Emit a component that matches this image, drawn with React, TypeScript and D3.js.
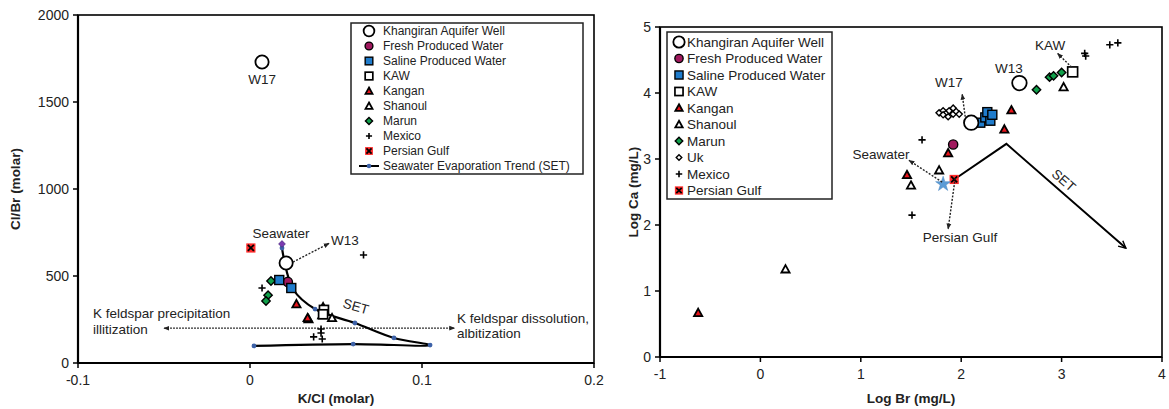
import React from "react";
import * as d3 from "d3";

const FONT = "'Liberation Sans', Arial, Helvetica, sans-serif";

// ---------- Left panel: K/Cl vs Cl/Br (molar) ----------
const khangiranL = [
  { x: 0.007, y: 1730 },
  { x: 0.021, y: 575 },
];
const freshL = [{ x: 0.022, y: 466 }];
const salineL = [
  { x: 0.017, y: 477 },
  { x: 0.024, y: 431 },
];
const kawL = [
  { x: 0.043, y: 305 },
  { x: 0.0425, y: 280 },
];
const kanganL = [
  { x: 0.027, y: 339 },
  { x: 0.0335, y: 259 },
  { x: 0.0425, y: 322 },
];
const shanoulL = [
  { x: 0.034, y: 253 },
  { x: 0.042, y: 276 },
  { x: 0.0477, y: 259 },
];
const marunL = [
  { x: 0.0122, y: 471 },
  { x: 0.0105, y: 390 },
  { x: 0.0093, y: 356 },
];
const mexicoL = [
  { x: 0.007, y: 431 },
  { x: 0.066, y: 621 },
  { x: 0.0413, y: 195 },
  { x: 0.0413, y: 172 },
  { x: 0.037, y: 150 },
  { x: 0.042, y: 138 },
];
const persianL = [{ x: 0.0005, y: 661 }];
const seawaterL = [{ x: 0.0186, y: 684 }];
const setL = [
  { x: 0.0186, y: 661 },
  { x: 0.025, y: 425 },
  { x: 0.0378, y: 310 },
  { x: 0.061, y: 230 },
  { x: 0.0837, y: 144 },
  { x: 0.1047, y: 103 },
  { x: 0.06, y: 109 },
  { x: 0.0023, y: 98 },
];
const xTicksL = [-0.1, 0, 0.1, 0.2];
const yTicksL = [0, 500, 1000, 1500, 2000];

// ---------- Right panel: Log Br vs Log Ca (mg/L) ----------
const khangiranR = [
  { x: 2.58, y: 4.15 },
  { x: 2.1, y: 3.55 },
];
const freshR = [{ x: 1.92, y: 3.22 }];
const salineR = [
  { x: 2.19, y: 3.55 },
  { x: 2.24, y: 3.63 },
  { x: 2.29, y: 3.58 },
  { x: 2.26, y: 3.71 },
  { x: 2.31, y: 3.67 },
];
const kawR = [{ x: 3.11, y: 4.32 }];
const kanganR = [
  { x: 2.5, y: 3.74 },
  { x: 2.43, y: 3.45 },
  { x: 1.87, y: 3.09 },
  { x: 1.46, y: 2.76 },
  { x: -0.62, y: 0.67 },
];
const shanoulR = [
  { x: 3.02, y: 4.09 },
  { x: 1.78, y: 2.83 },
  { x: 1.5, y: 2.6 },
  { x: 0.25, y: 1.33 },
];
const marunR = [
  { x: 2.75, y: 4.05 },
  { x: 2.88, y: 4.24 },
  { x: 2.92, y: 4.26 },
  { x: 3.0, y: 4.31 },
];
const ukR = [
  { x: 1.78, y: 3.7 },
  { x: 1.82, y: 3.73 },
  { x: 1.85, y: 3.69 },
  { x: 1.88, y: 3.73 },
  { x: 1.92, y: 3.77 },
  { x: 1.92, y: 3.68 },
  { x: 1.95, y: 3.72 },
  { x: 1.87, y: 3.64 },
  { x: 1.82, y: 3.67 },
  { x: 1.98, y: 3.68 },
];
const mexicoR = [
  { x: 3.48, y: 4.73 },
  { x: 3.56, y: 4.76 },
  { x: 3.23, y: 4.6 },
  { x: 3.24, y: 4.56 },
  { x: 1.61, y: 3.29 },
  { x: 1.51, y: 2.15 },
];
const persianR = [{ x: 1.93, y: 2.69 }];
const seawaterR = [{ x: 1.82, y: 2.62 }];
const setR = [
  { x: 1.93, y: 2.69 },
  { x: 2.45, y: 3.23 },
  { x: 3.64, y: 1.65 },
];
const xTicksR = [-1, 0, 1, 2, 3, 4];
const yTicksR = [0, 1, 2, 3, 4, 5];

const legendL = [
  "Khangiran Aquifer Well",
  "Fresh Produced Water",
  "Saline Produced Water",
  "KAW",
  "Kangan",
  "Shanoul",
  "Marun",
  "Mexico",
  "Persian Gulf",
  "Seawater Evaporation Trend (SET)",
];
const legendKindsL = ["khangiran", "fresh", "saline", "kaw", "kangan", "shanoul", "marun", "mexico", "persian", "set"];
const legendR = [
  "Khangiran Aquifer Well",
  "Fresh Produced Water",
  "Saline Produced Water",
  "KAW",
  "Kangan",
  "Shanoul",
  "Marun",
  "Uk",
  "Mexico",
  "Persian Gulf",
];
const legendKindsR = ["khangiran", "fresh", "saline", "kaw", "kangan", "shanoul", "marun", "uk", "mexico", "persian"];

const COLORS = {
  fresh: "#a0195e",
  saline: "#1f7ccc",
  kangan: "#e8141b",
  marun: "#10a04a",
  persian: "#ff2a2a",
  seawaterDiamond: "#7a3ab0",
  star: "#5b9bd5",
  setDot: "#3d62a8",
};

function Marker({ kind, x, y, k = 1 }: { kind: string; x: number; y: number; k?: number }) {
  switch (kind) {
    case "khangiran":
      return <circle cx={x} cy={y} r={6.3 * k} fill="#fff" stroke="#000" strokeWidth={1.8} />;
    case "fresh":
      return <circle cx={x} cy={y} r={4.6 * k} fill={COLORS.fresh} stroke="#000" strokeWidth={1.4} />;
    case "saline": {
      const h = 4.5 * k;
      return <rect x={x - h} y={y - h} width={2 * h} height={2 * h} fill={COLORS.saline} stroke="#000" strokeWidth={1.4} />;
    }
    case "kaw": {
      const h = 4.5 * k;
      return <rect x={x - h} y={y - h} width={2 * h} height={2 * h} fill="#fff" stroke="#000" strokeWidth={1.7} />;
    }
    case "kangan":
    case "shanoul": {
      const h = 4.1 * k;
      const p = `M${x},${y - h}L${x + h},${y + h * 0.8}L${x - h},${y + h * 0.8}Z`;
      return (
        <path d={p} fill={kind === "kangan" ? COLORS.kangan : "#fff"} stroke="#000" strokeWidth={1.8} strokeLinejoin="miter" />
      );
    }
    case "marun":
    case "uk":
    case "seadiamond": {
      const h = (kind === "uk" ? 3.1 : 4.2) * k;
      const fill = kind === "marun" ? COLORS.marun : kind === "uk" ? "#fff" : COLORS.seawaterDiamond;
      return (
        <path
          d={`M${x},${y - h}L${x + h},${y}L${x},${y + h}L${x - h},${y}Z`}
          fill={fill}
          stroke={kind === "seadiamond" ? "#4a2a80" : "#000"}
          strokeWidth={kind === "seadiamond" ? 0.8 : 1.4}
        />
      );
    }
    case "mexico": {
      const h = 3.6 * k;
      return (
        <path d={`M${x - h},${y}H${x + h}M${x},${y - h}V${y + h}`} stroke="#000" strokeWidth={1.6} fill="none" />
      );
    }
    case "persian": {
      const h = 4.6 * k;
      const c = 3 * k;
      return (
        <g>
          <rect x={x - h} y={y - h} width={2 * h} height={2 * h} fill={COLORS.persian} />
          <path d={`M${x - c},${y - c}L${x + c},${y + c}M${x + c},${y - c}L${x - c},${y + c}`} stroke="#000" strokeWidth={1.8} />
        </g>
      );
    }
    case "star": {
      const p = d3.symbol(d3.symbolStar, 70 * k)() as string;
      return <path d={p} transform={`translate(${x},${y})`} fill={COLORS.star} stroke="#4a86c0" strokeWidth={0.5} />;
    }
    case "set":
      return (
        <g>
          <line x1={x - 10} x2={x + 10} y1={y} y2={y} stroke="#000" strokeWidth={2} />
          <circle cx={x} cy={y} r={2.3} fill={COLORS.setDot} />
        </g>
      );
    default:
      return null;
  }
}

type Pt = { x: number; y: number };

function Series({ data, kind, sx, sy, k }: { data: Pt[]; kind: string; sx: any; sy: any; k?: number }) {
  return (
    <g>
      {data.map((d, i) => (
        <Marker key={i} kind={kind} x={sx(d.x)} y={sy(d.y)} k={k} />
      ))}
    </g>
  );
}

function Frame({ sx, sy, xTicks, yTicks, fmtX, fmtY }: any) {
  const [x0, x1] = sx.range();
  const [y0, y1] = sy.range();
  return (
    <g fontFamily={FONT}>
      <rect x={x0} y={y1} width={x1 - x0} height={y0 - y1} fill="none" stroke="#000" strokeWidth={1.6} />
      <line x1={x0} x2={x1} y1={y0} y2={y0} stroke="#000" strokeWidth={2.2} />
      <line x1={x0} x2={x0} y1={y0} y2={y1} stroke="#000" strokeWidth={2.2} />
      {xTicks.map((t: number) => (
        <g key={"x" + t}>
          <line x1={sx(t)} x2={sx(t)} y1={y0} y2={y0 + 5} stroke="#000" strokeWidth={1.5} />
          <text x={sx(t)} y={y0 + 22} textAnchor="middle" fontSize={14} fill="#222">
            {fmtX(t)}
          </text>
        </g>
      ))}
      {yTicks.map((t: number) => (
        <g key={"y" + t}>
          <line x1={x0 - 5} x2={x0} y1={sy(t)} y2={sy(t)} stroke="#000" strokeWidth={1.5} />
          <text x={x0 - 9} y={sy(t) + 5} textAnchor="end" fontSize={14} fill="#222">
            {fmtY(t)}
          </text>
        </g>
      ))}
    </g>
  );
}

function Legend({ x, y, w, h, labels, kinds, rowY0, dy, mx, tx, fs, k }: any) {
  return (
    <g fontFamily={FONT}>
      <rect x={x} y={y} width={w} height={h} fill="#fff" stroke="#222" strokeWidth={1.5} />
      {labels.map((l: string, i: number) => (
        <g key={l}>
          <Marker kind={kinds[i]} x={mx} y={rowY0 + i * dy} k={k} />
          <text x={tx} y={rowY0 + i * dy + fs * 0.36} fontSize={fs} fill="#222">
            {l}
          </text>
        </g>
      ))}
    </g>
  );
}

function Arrow({ x1, y1, x2, y2, id }: { x1: number; y1: number; x2: number; y2: number; id: string }) {
  return <line x1={x1} y1={y1} x2={x2} y2={y2} stroke="#222" strokeWidth={1.4} strokeDasharray="2,1.5" markerEnd={`url(#${id})`} />;
}

export default function App() {
  const xL = d3.scaleLinear().domain([-0.1, 0.2]).range([78, 594]);
  const yL = d3.scaleLinear().domain([0, 2000]).range([363, 15]);
  const xR = d3.scaleLinear().domain([-1, 4]).range([660, 1162]);
  const yR = d3.scaleLinear().domain([0, 5]).range([357, 27]);

  const setLinePath = d3
    .line<Pt>()
    .x((d) => xL(d.x))
    .y((d) => yL(d.y))
    .curve(d3.curveCatmullRom.alpha(0.5))(setL) as string;

  const setRPath = d3
    .line<Pt>()
    .x((d) => xR(d.x))
    .y((d) => yR(d.y))(setR) as string;

  // SET label angle on the right follows the descending SET branch
  const angR =
    (Math.atan2(yR(setR[2].y) - yR(setR[1].y), xR(setR[2].x) - xR(setR[1].x)) * 180) / Math.PI;

  return (
    <svg width={1169} height={409} style={{ position: "absolute", left: 0, top: 0, background: "#fff" }}>
      <defs>
        <marker id="ah" viewBox="0 0 10 10" refX="9" refY="5" markerWidth="6" markerHeight="6" orient="auto-start-reverse" markerUnits="userSpaceOnUse">
          <path d="M0,1L10,5L0,9Z" fill="#222" />
        </marker>
        <marker id="ahOpen" viewBox="0 0 10 10" refX="9" refY="5" markerWidth="9" markerHeight="9" orient="auto" markerUnits="userSpaceOnUse">
          <path d="M1,1L9,5L1,9" fill="none" stroke="#000" strokeWidth={1.6} />
        </marker>
      </defs>
      <rect width={1169} height={409} fill="#fff" />

      {/* ---------------- Left panel ---------------- */}
      <Frame sx={xL} sy={yL} xTicks={xTicksL} yTicks={yTicksL} fmtX={(t: number) => (t === 0 ? "0" : String(t))} fmtY={(t: number) => String(t)} />
      <text x={336} y={403} textAnchor="middle" fontFamily={FONT} fontWeight="bold" fontSize={13.5} fill="#222">
        K/Cl (molar)
      </text>
      <text transform={`translate(20,${yL(1000)}) rotate(-90)`} textAnchor="middle" fontFamily={FONT} fontWeight="bold" fontSize={13.5} fill="#222">
        Cl/Br (molar)
      </text>

      {/* K feldspar reaction arrow */}
      <line
        x1={xL(-0.05)}
        x2={xL(0.119)}
        y1={yL(200)}
        y2={yL(200)}
        stroke="#333"
        strokeWidth={1.2}
        strokeDasharray="2,1"
        markerStart="url(#ah)"
        markerEnd="url(#ah)"
      />
      <g fontFamily={FONT} fontSize={13.5} fill="#222">
        <text x={93} y={318}>K feldspar precipitation</text>
        <text x={93} y={334}>illitization</text>
        <text x={457} y={323}>K feldspar dissolution,</text>
        <text x={457} y={338}>albitization</text>
      </g>

      {/* Seawater evaporation trend */}
      <path d={setLinePath} fill="none" stroke="#000" strokeWidth={2.2} />
      {setL.map((d, i) => (
        <circle key={i} cx={xL(d.x)} cy={yL(d.y)} r={2.4} fill={COLORS.setDot} />
      ))}

      <Series data={marunL} kind="marun" sx={xL} sy={yL} />
      <Series data={mexicoL} kind="mexico" sx={xL} sy={yL} />
      <Series data={shanoulL} kind="shanoul" sx={xL} sy={yL} />
      <Series data={kanganL} kind="kangan" sx={xL} sy={yL} />
      <Series data={kawL} kind="kaw" sx={xL} sy={yL} />
      <Series data={freshL} kind="fresh" sx={xL} sy={yL} />
      <Series data={salineL} kind="saline" sx={xL} sy={yL} />
      <Series data={persianL} kind="persian" sx={xL} sy={yL} />
      <Series data={seawaterL} kind="seadiamond" sx={xL} sy={yL} k={0.8} />
      <Series data={khangiranL} kind="khangiran" sx={xL} sy={yL} k={1.05} />

      <Arrow id="ah" x1={xL(0.025)} y1={yL(580)} x2={xL(0.046)} y2={yL(688)} />
      <g fontFamily={FONT} fontSize={13.5} fill="#222">
        <text x={xL(0.007)} y={84} textAnchor="middle">W17</text>
        <text x={281} y={238} textAnchor="middle">Seawater</text>
        <text x={331} y={245}>W13</text>
        <text x={356} y={311} textAnchor="middle" transform="rotate(16,356,306)">SET</text>
      </g>

      <Legend
        x={351}
        y={23}
        w={232}
        h={151}
        labels={legendL}
        kinds={legendKindsL}
        rowY0={31}
        dy={15}
        mx={369}
        tx={383}
        fs={12}
        k={0.85}
      />

      {/* ---------------- Right panel ---------------- */}
      <Frame sx={xR} sy={yR} xTicks={xTicksR} yTicks={yTicksR} fmtX={(t: number) => String(t)} fmtY={(t: number) => String(t)} />
      <text x={xR(1.5)} y={403} textAnchor="middle" fontFamily={FONT} fontWeight="bold" fontSize={13.5} fill="#222">
        Log Br (mg/L)
      </text>
      <text transform={`translate(638,${yR(2.5)}) rotate(-90)`} textAnchor="middle" fontFamily={FONT} fontWeight="bold" fontSize={13.5} fill="#222">
        Log Ca (mg/L)
      </text>

      <path d={setRPath} fill="none" stroke="#000" strokeWidth={2} markerEnd="url(#ahOpen)" />

      <Series data={ukR} kind="uk" sx={xR} sy={yR} />
      <Series data={marunR} kind="marun" sx={xR} sy={yR} />
      <Series data={mexicoR} kind="mexico" sx={xR} sy={yR} />
      <Series data={shanoulR} kind="shanoul" sx={xR} sy={yR} />
      <Series data={kanganR} kind="kangan" sx={xR} sy={yR} />
      <Series data={kawR} kind="kaw" sx={xR} sy={yR} k={1.1} />
      <Series data={salineR} kind="saline" sx={xR} sy={yR} />
      <Series data={freshR} kind="fresh" sx={xR} sy={yR} />
      <Series data={persianR} kind="persian" sx={xR} sy={yR} />
      <Series data={seawaterR} kind="star" sx={xR} sy={yR} />
      <Series data={khangiranR} kind="khangiran" sx={xR} sy={yR} k={1.15} />

      <Arrow id="ah" x1={xR(3.1)} y1={yR(4.39)} x2={xR(2.96)} y2={yR(4.6)} />
      <Arrow id="ah" x1={xR(2.04)} y1={yR(3.64)} x2={xR(2.01)} y2={yR(3.98)} />
      <Arrow id="ah" x1={xR(1.81)} y1={yR(2.65)} x2={xR(1.48)} y2={yR(2.98)} />
      <Arrow id="ah" x1={xR(1.94)} y1={yR(2.71)} x2={xR(1.87)} y2={yR(1.94)} />

      <g fontFamily={FONT} fontSize={13.5} fill="#222">
        <text x={1050} y={50} textAnchor="middle">KAW</text>
        <text x={1009} y={73} textAnchor="middle">W13</text>
        <text x={949} y={87} textAnchor="middle">W17</text>
        <text x={881} y={159} textAnchor="middle">Seawater</text>
        <text x={960} y={242} textAnchor="middle">Persian Gulf</text>
        <text x={1064} y={185} textAnchor="middle" transform={`rotate(${angR},1064,180)`}>SET</text>
      </g>

      <Legend
        x={667}
        y={32}
        w={165}
        h={167}
        labels={legendR}
        kinds={legendKindsR}
        rowY0={42}
        dy={16.5}
        mx={679}
        tx={687}
        fs={13.5}
        k={0.9}
      />
    </svg>
  );
}
